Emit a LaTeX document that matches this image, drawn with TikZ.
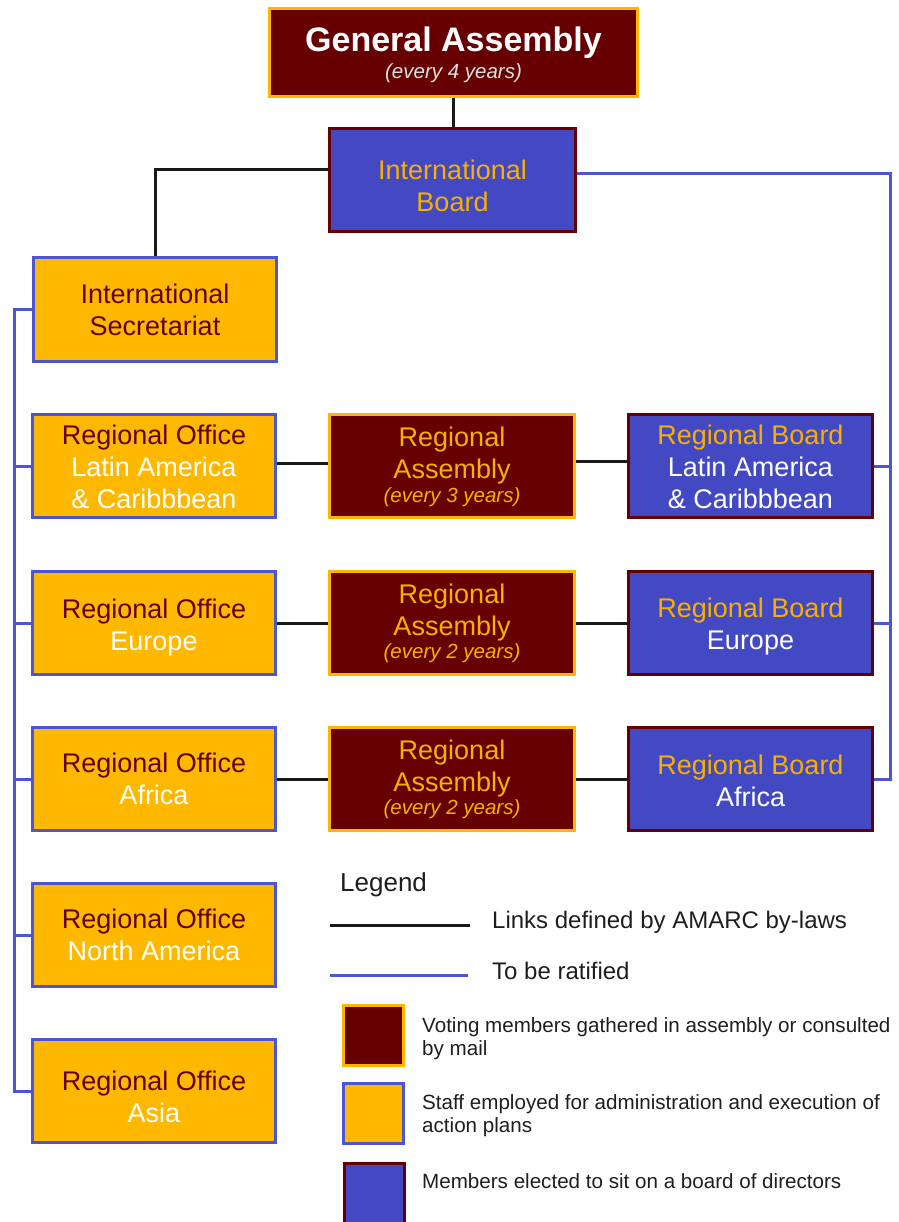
\documentclass[tikz,border=0pt]{standalone}
\usepackage{fontspec}
\setmainfont{Liberation Sans}
\usetikzlibrary{calc}
\definecolor{dred}{HTML}{660000}
\definecolor{org}{HTML}{FFB800}
\definecolor{orgline}{HTML}{FFB400}
\definecolor{bfill}{HTML}{4349C3}
\definecolor{bline}{HTML}{4D55D2}
\definecolor{gold}{HTML}{F7B000}
\definecolor{txt}{HTML}{1E1E1E}
\newcommand{\lowerby}[1]{\rule{0pt}{#1}}
\begin{document}
\begin{tikzpicture}[x=1pt,y=-1pt,
  box/.style={rectangle, line width=3pt, inner sep=0pt, align=center,
    minimum width=243pt, minimum height=103pt,
    font={\fontsize{27}{32}\selectfont\lineskiplimit=-30pt}},
  asm/.style={box, fill=dred, draw=orgline, text=gold, minimum width=245pt},
  office/.style={box, fill=org, draw=bline, text=dred},
  board/.style={box, fill=bfill, draw=dred, text=gold, minimum width=244pt},
  blk/.style={draw=black!90, line width=3pt},
  blu/.style={draw=bline, line width=3pt},
  leg/.style={anchor=base west, inner sep=0pt, text=txt, align=left},
  sq/.style={rectangle, line width=3pt, minimum size=60pt, inner sep=0pt},
]
\useasboundingbox (0,0) rectangle (898,1222);
\clip (0,0) rectangle (898,1222);
% top
\node[asm, minimum width=368pt, minimum height=88pt, text=white,
  font={\fontsize{34}{23}\selectfont\lineskiplimit=-30pt}] (ga) at (453.5,52.5)
  {\lowerby{29pt}\bfseries General Assembly\\[4pt]{\fontsize{20.5}{23}\selectfont\itshape\color{white!88!black}(every 4 years)}};
\node[board, minimum width=246pt] (ib) at (452.5,180) {\lowerby{31.5pt}International\\Board};
\node[office] (sec) at (155,309.5) {International\\Secretariat};
% rows
\node[office] (rola) at (154,466) {\lowerby{22pt}Regional Office\\\textcolor{white}{Latin America}\\\textcolor{white}{\& Caribbbean}};
\node[asm] (rala) at (452,466) {\lowerby{22pt}Regional\\Assembly\\[-8pt]{\fontsize{20.5}{23}\selectfont\itshape (every 3 years)}};
\node[board] (rbla) at (750.5,466) {\lowerby{22pt}Regional Board\\\textcolor{white}{Latin America}\\\textcolor{white}{\& Caribbbean}};
\node[office] (roeu) at (154,623) {\lowerby{28.5pt}Regional Office\\\textcolor{white}{Europe}};
\node[asm] (raeu) at (452,623) {Regional\\Assembly\\[-9pt]{\fontsize{20.5}{23}\selectfont\itshape (every 2 years)}};
\node[board] (rbeu) at (750.5,623) {\lowerby{27pt}Regional Board\\\textcolor{white}{Europe}};
\node[office] (roaf) at (154,779) {Regional Office\\\textcolor{white}{Africa}};
\node[asm] (raaf) at (452,779) {Regional\\Assembly\\[-9pt]{\fontsize{20.5}{23}\selectfont\itshape (every 2 years)}};
\node[board] (rbaf) at (750.5,779) {\lowerby{24pt}Regional Board\\\textcolor{white}{Africa}};
\node[office] (rona) at (154,935) {Regional Office\\\textcolor{white}{North America}};
\node[office] (roas) at (154,1091) {\lowerby{31pt}Regional Office\\\textcolor{white}{Asia}};
% connectors
\draw[blk] (ga.south) -- (ga.south |- ib.north);
\draw[blk] ([yshift=10pt]ib.west) -| (sec.north);
\draw[blu] ([yshift=6pt]ib.east) -| ($(rbaf.east)+(16,0)$) -- (rbaf.east);
\draw[blu] (rbla.east) -- ++(16,0);
\draw[blu] (rbeu.east) -- ++(16,0);
\draw[blu] (sec.west) -| ($(roas.west)+(-17,0)$) -- (roas.west);
\draw[blu] (rola.west) -- ++(-17,0);
\draw[blu] (roeu.west) -- ++(-17,0);
\draw[blu] (roaf.west) -- ++(-17,0);
\draw[blu] (rona.west) -- ++(-17,0);
\draw[blk] ([yshift=3pt]rola.east) -- ([yshift=3pt]rala.west);
\draw[blk] ([yshift=5pt]rala.east) -- ([yshift=5pt]rbla.west);
\draw[blk] (roeu) -- (raeu);
\draw[blk] (raeu) -- (rbeu);
\draw[blk] (roaf) -- (raaf);
\draw[blk] (raaf) -- (rbaf);
% legend
\node[leg, font=\fontsize{26}{30}\selectfont] (legt) at (340,891) {Legend};
\coordinate (l1a) at (330,925);
\coordinate (l1b) at (470,925);
\draw[blk] (l1a) -- (l1b);
\node[leg, font=\fontsize{24}{28}\selectfont] (l1t) at (492,928) {Links defined by AMARC by-laws};
\coordinate (l2a) at (330,975);
\coordinate (l2b) at (468,975);
\draw[blu] (l2a) -- (l2b);
\node[leg, font=\fontsize{24}{28}\selectfont] (l2t) at (492,979) {To be ratified};
\node[sq, fill=dred, draw=orgline] (sq1) at (373.5,1035.5) {};
\node[sq, fill=org, draw=bline] (sq2) at (373.5,1113.5) {};
\node[sq, fill=bfill, draw=dred] (sq3) at (374,1193.5) {};
\node[leg, font=\fontsize{20.6}{23}\selectfont] (s1t) at (422,1055) {Voting members gathered in assembly or consulted\\by mail};
\node[leg, font=\fontsize{20.6}{23}\selectfont] (s2t) at (422,1132) {Staff employed for administration and execution of\\action plans};
\node[leg, font=\fontsize{20.6}{23}\selectfont] (s3t) at (422,1188) {Members elected to sit on a board of directors};
\end{tikzpicture}
\end{document}
